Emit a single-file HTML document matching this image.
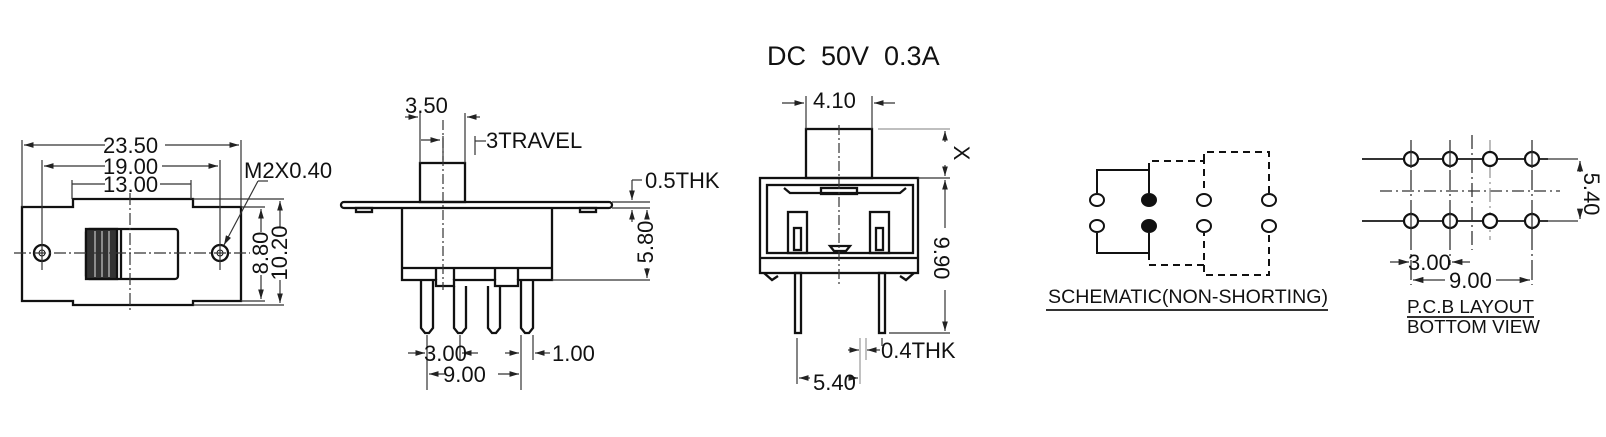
<!DOCTYPE html>
<html><head><meta charset="utf-8"><style>
html,body{margin:0;padding:0;background:#fff;}
svg{display:block;}
text{font-family:"Liberation Sans",sans-serif;fill:#111;}
</style></head><body>
<svg width="1606" height="437" viewBox="0 0 1606 437" xmlns="http://www.w3.org/2000/svg">
<defs>
<marker id="a" viewBox="0 0 10 6" refX="10" refY="3" markerWidth="8" markerHeight="5" orient="auto-start-reverse"><path d="M0,0 L10,3 L0,6 z" fill="#222"/></marker>
</defs>
<g stroke="#111" fill="none" stroke-width="2.3">
<!-- VIEW 1 -->
<path d="M22,207 H73 V199 H193 V207 H241 V301 H193 V305 H73 V301 H22 Z"/>
<rect x="86" y="229" width="92" height="50" rx="3"/>
<rect x="86" y="229" width="31" height="50" fill="#333"/>
<g stroke="#aaa" stroke-width="1.5"><line x1="95" y1="231" x2="95" y2="277"/><line x1="102" y1="231" x2="102" y2="277"/><line x1="109" y1="231" x2="109" y2="277"/></g>
<line x1="121" y1="229" x2="121" y2="279"/>
<circle cx="42" cy="253" r="8"/><circle cx="220" cy="253" r="8"/>
<circle cx="42" cy="253" r="3" stroke-width="1"/><circle cx="220" cy="253" r="3" stroke-width="1"/>
</g>
<g stroke="#333" fill="none" stroke-width="1.2">
<line x1="14" y1="253" x2="250" y2="253" stroke-dasharray="12,3,2,3"/>
<line x1="130" y1="193" x2="130" y2="312" stroke-dasharray="12,3,2,3"/>
<line x1="22" y1="140" x2="22" y2="207"/><line x1="241" y1="140" x2="241" y2="207"/>
<line x1="42" y1="160" x2="42" y2="270"/><line x1="220" y1="160" x2="220" y2="270"/>
<line x1="72" y1="180" x2="72" y2="199"/><line x1="191" y1="180" x2="191" y2="199"/>
<line x1="24" y1="145" x2="105" y2="145" marker-start="url(#a)"/><line x1="165" y1="145" x2="239" y2="145" marker-end="url(#a)"/>
<line x1="44" y1="166" x2="105" y2="166" marker-start="url(#a)"/><line x1="162" y1="166" x2="218" y2="166" marker-end="url(#a)"/>
<line x1="72" y1="184" x2="105" y2="184"/><line x1="160" y1="184" x2="191" y2="184"/>
<line x1="258" y1="181" x2="224" y2="245" marker-end="url(#a)"/><line x1="258" y1="181" x2="268" y2="181"/>
<line x1="241" y1="207" x2="265" y2="207"/><line x1="241" y1="301" x2="265" y2="301"/>
<line x1="193" y1="199" x2="284" y2="199"/><line x1="193" y1="305" x2="284" y2="305"/>
<line x1="261" y1="209" x2="261" y2="232" marker-start="url(#a)"/><line x1="261" y1="275" x2="261" y2="299" marker-end="url(#a)"/>
<line x1="280" y1="201" x2="280" y2="227" marker-start="url(#a)"/><line x1="280" y1="280" x2="280" y2="303" marker-end="url(#a)"/>
</g>
<text x="103" y="153" font-size="22">23.50</text>
<text x="103" y="174" font-size="22">19.00</text>
<text x="103" y="192" font-size="22">13.00</text>
<text x="244" y="178" font-size="22">M2X0.40</text>
<text transform="translate(268,253) rotate(-90)" text-anchor="middle" font-size="22">8.80</text>
<text transform="translate(287,253) rotate(-90)" text-anchor="middle" font-size="22">10.20</text>

<!-- VIEW 2 -->
<g stroke="#111" fill="none" stroke-width="2.3">
<rect x="341" y="202" width="271" height="6" rx="3"/>
<rect x="356" y="208" width="16" height="4"/><rect x="580" y="208" width="16" height="4"/>
<path d="M402,208 V280 H436 V286 H454 V280 H495 V286 H518 V280 H552 V208"/>
<line x1="402" y1="268" x2="552" y2="268"/>
<line x1="436" y1="268" x2="436" y2="280"/><line x1="454" y1="268" x2="454" y2="280"/>
<line x1="495" y1="268" x2="495" y2="280"/><line x1="518" y1="268" x2="518" y2="280"/>
<rect x="420" y="163" width="45" height="39"/>
<path d="M421,280 V328 L425,333 H429 L433,328 V280"/>
<path d="M454,286 V328 L458,333 H462 L466,328 V286"/>
<path d="M488,286 V328 L492,333 H496 L500,328 V286"/>
<path d="M521,280 V328 L525,333 H529 L533,328 V280"/>
</g>
<g stroke="#333" fill="none" stroke-width="1.2">
<line x1="443" y1="120" x2="443" y2="290" stroke-dasharray="10,3,2,3"/>
<line x1="420" y1="113" x2="420" y2="163"/><line x1="465" y1="113" x2="465" y2="163"/>
<line x1="405" y1="117" x2="418" y2="117" marker-end="url(#a)"/><line x1="480" y1="117" x2="467" y2="117" marker-end="url(#a)"/>
<line x1="421" y1="140" x2="440" y2="140" marker-end="url(#a)"/><line x1="443" y1="136" x2="443" y2="160"/>
<line x1="475" y1="136" x2="475" y2="155"/><line x1="475" y1="141" x2="486" y2="141"/>
<line x1="612" y1="202" x2="650" y2="202"/><line x1="612" y1="208" x2="650" y2="208"/>
<line x1="552" y1="280" x2="650" y2="280"/>
<line x1="632" y1="180" x2="632" y2="200" marker-end="url(#a)"/><line x1="632" y1="180" x2="642" y2="180"/>
<line x1="632" y1="222" x2="632" y2="210" marker-end="url(#a)"/>
<line x1="647" y1="210" x2="647" y2="218" marker-start="url(#a)"/><line x1="647" y1="268" x2="647" y2="278" marker-end="url(#a)"/>
<line x1="427" y1="335" x2="427" y2="390"/><line x1="460" y1="335" x2="460" y2="360"/>
<line x1="521" y1="335" x2="521" y2="390"/><line x1="533" y1="335" x2="533" y2="360"/>
<line x1="408" y1="353" x2="425" y2="353" marker-end="url(#a)"/><line x1="478" y1="353" x2="462" y2="353" marker-end="url(#a)"/>
<line x1="505" y1="353" x2="519" y2="353" marker-end="url(#a)"/><line x1="550" y1="353" x2="535" y2="353" marker-end="url(#a)"/>
<line x1="429" y1="374" x2="445" y2="374" marker-start="url(#a)"/><line x1="498" y1="374" x2="519" y2="374" marker-end="url(#a)"/>
</g>
<text x="405" y="113" font-size="22">3.50</text>
<text x="486" y="148" font-size="22">3TRAVEL</text>
<text x="645" y="188" font-size="22">0.5THK</text>
<text transform="translate(653,242) rotate(-90)" text-anchor="middle" font-size="22">5.80</text>
<text x="424" y="361" font-size="22">3.00</text>
<text x="552" y="361" font-size="22">1.00</text>
<text x="443" y="382" font-size="22">9.00</text>

<!-- VIEW 3 -->
<text x="767" y="65" font-size="27">DC&#160; 50V&#160; 0.3A</text>
<g stroke="#111" fill="none" stroke-width="2.3">
<rect x="806" y="129" width="66" height="49"/>
<rect x="760" y="178" width="158" height="95"/>
<line x1="760" y1="258" x2="918" y2="258"/>
<rect x="767" y="185" width="146" height="68"/>
<path d="M784,188 L790,193 H900 L906,188"/>
<rect x="821" y="188" width="36" height="6"/>
<rect x="788" y="212" width="19" height="41"/><rect x="870" y="212" width="19" height="41"/>
<rect x="794" y="228" width="7" height="22"/><rect x="876" y="228" width="7" height="22"/>
<path d="M830,246 H850 L846,251 H834 Z"/>
<rect x="795" y="273" width="6" height="60"/><rect x="879" y="273" width="6" height="60"/>
<path d="M764,273 L772,280 L778,276"/><path d="M914,273 L906,280 L900,276"/>
</g>
<g stroke="#333" fill="none" stroke-width="1.2">
<line x1="839" y1="125" x2="839" y2="285" stroke-dasharray="10,3,2,3"/>
<line x1="806" y1="96" x2="806" y2="129"/><line x1="872" y1="96" x2="872" y2="129"/>
<line x1="782" y1="103" x2="804" y2="103" marker-end="url(#a)"/><line x1="895" y1="103" x2="874" y2="103" marker-end="url(#a)"/>
<line x1="878" y1="129" x2="950" y2="129" stroke="#999"/>
<line x1="918" y1="178" x2="950" y2="178"/>
<line x1="889" y1="333" x2="950" y2="333"/>
<line x1="945" y1="131" x2="945" y2="142" marker-start="url(#a)"/><line x1="945" y1="165" x2="945" y2="176" marker-end="url(#a)"/>
<line x1="945" y1="180" x2="945" y2="228" marker-start="url(#a)"/><line x1="945" y1="290" x2="945" y2="331" marker-end="url(#a)"/>
<line x1="797" y1="338" x2="797" y2="384"/><line x1="882" y1="338" x2="882" y2="346"/>
<line x1="860" y1="338" x2="860" y2="384" stroke="#999"/><line x1="866" y1="338" x2="866" y2="360" stroke="#999"/>
<line x1="848" y1="350" x2="859" y2="350" marker-end="url(#a)"/><line x1="880" y1="350" x2="867" y2="350" marker-end="url(#a)"/>
<line x1="799" y1="378" x2="810" y2="378" marker-start="url(#a)"/><line x1="850" y1="378" x2="858" y2="378" marker-end="url(#a)"/>
</g>
<text x="813" y="108" font-size="22">4.10</text>
<text transform="translate(954,153) rotate(90)" text-anchor="middle" font-size="22">X</text>
<text transform="translate(934,258) rotate(90)" text-anchor="middle" font-size="22">9.90</text>
<text x="881" y="358" font-size="22">0.4THK</text>
<text x="813" y="390" font-size="22">5.40</text>

<!-- SCHEMATIC -->
<g stroke="#111" fill="none" stroke-width="2">
<path d="M1097,193 V170 H1149 V193"/><path d="M1097,233 V253 H1149 V233"/>
<g stroke-dasharray="7,5"><path d="M1149,170 V161 H1204 V193"/><path d="M1149,253 V265 H1204 V233"/>
<path d="M1204,161 V152 H1269 V193"/><path d="M1204,265 V275 H1269 V233"/></g>
<ellipse cx="1097" cy="200" rx="7" ry="6"/><ellipse cx="1097" cy="226" rx="7" ry="6"/>
<ellipse cx="1149" cy="200" rx="7" ry="6" fill="#111"/><ellipse cx="1149" cy="226" rx="7" ry="6" fill="#111"/>
<ellipse cx="1204" cy="200" rx="7" ry="6"/><ellipse cx="1204" cy="226" rx="7" ry="6"/>
<ellipse cx="1269" cy="200" rx="7" ry="6"/><ellipse cx="1269" cy="226" rx="7" ry="6"/>
</g>
<text x="1048" y="303" font-size="19" textLength="280" lengthAdjust="spacingAndGlyphs">SCHEMATIC(NON-SHORTING)</text>
<line x1="1046" y1="310" x2="1328" y2="310" stroke="#333" stroke-width="2"/>

<!-- PCB -->
<g stroke="#333" fill="none" stroke-width="1.3">
<line x1="1362" y1="159" x2="1548" y2="159" stroke-width="2"/>
<line x1="1362" y1="221" x2="1548" y2="221" stroke-width="2"/>
<line x1="1380" y1="191" x2="1560" y2="191" stroke-dasharray="12,4,2,4"/>
<line x1="1472" y1="135" x2="1472" y2="250" stroke-dasharray="14,4,2,4"/>
<line x1="1411" y1="140" x2="1411" y2="285" stroke-dasharray="20,4,2,4"/>
<line x1="1450" y1="140" x2="1450" y2="265" stroke-dasharray="20,4,2,4"/>
<line x1="1490" y1="140" x2="1490" y2="240" stroke-dasharray="14,4,2,4" stroke="#999"/>
<line x1="1532" y1="140" x2="1532" y2="285" stroke-dasharray="20,4,2,4"/>
<line x1="1545" y1="159" x2="1578" y2="159"/><line x1="1545" y1="221" x2="1578" y2="221"/>
<line x1="1580" y1="161" x2="1580" y2="172" marker-start="url(#a)"/><line x1="1580" y1="212" x2="1580" y2="219" marker-end="url(#a)"/>
<line x1="1390" y1="262" x2="1409" y2="262" marker-end="url(#a)"/><line x1="1470" y1="262" x2="1452" y2="262" marker-end="url(#a)"/>
<line x1="1413" y1="280" x2="1445" y2="280" marker-start="url(#a)"/><line x1="1496" y1="280" x2="1530" y2="280" marker-end="url(#a)"/>
</g>
<g stroke="#111" fill="#fff" stroke-width="2.2">
<circle cx="1411" cy="159" r="7"/><circle cx="1450" cy="159" r="7"/><circle cx="1490" cy="159" r="7"/><circle cx="1532" cy="159" r="7"/>
<circle cx="1411" cy="221" r="7"/><circle cx="1450" cy="221" r="7"/><circle cx="1490" cy="221" r="7"/><circle cx="1532" cy="221" r="7"/>
</g>
<g stroke="#333" stroke-width="1.3">
<line x1="1411" y1="150" x2="1411" y2="168"/><line x1="1450" y1="150" x2="1450" y2="168"/><line x1="1532" y1="150" x2="1532" y2="168"/>
<line x1="1411" y1="212" x2="1411" y2="230"/><line x1="1450" y1="212" x2="1450" y2="230"/><line x1="1532" y1="212" x2="1532" y2="230"/>
</g>
<text x="1408" y="270" font-size="22">3.00</text>
<text x="1449" y="288" font-size="22">9.00</text>
<text transform="translate(1584,194) rotate(90)" text-anchor="middle" font-size="22">5.40</text>
<text x="1407" y="313" font-size="18" textLength="127" lengthAdjust="spacingAndGlyphs">P.C.B LAYOUT</text>
<line x1="1407" y1="317" x2="1534" y2="317" stroke="#333" stroke-width="2"/>
<text x="1407" y="333" font-size="18" textLength="133" lengthAdjust="spacingAndGlyphs">BOTTOM VIEW</text>
</svg>
</body></html>
